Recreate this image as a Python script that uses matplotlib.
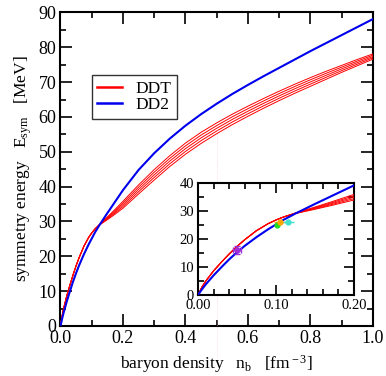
import matplotlib
matplotlib.use("Agg")
import matplotlib.pyplot as plt
from matplotlib.ticker import MultipleLocator, FormatStrFormatter
from matplotlib.lines import Line2D

plt.rcParams["font.family"] = ["Liberation Serif", "DejaVu Serif"]
plt.rcParams["mathtext.fontset"] = "custom"
plt.rcParams["mathtext.rm"] = "Liberation Serif"
plt.rcParams["mathtext.it"] = "Liberation Serif:italic"

# --- данные ---
n_grid = [0, 0.005, 0.01, 0.02, 0.03, 0.04, 0.05, 0.06, 0.075, 0.09, 0.1, 0.11,
          0.125, 0.15, 0.175, 0.2, 0.25, 0.3, 0.35, 0.4, 0.45, 0.5, 0.55, 0.6,
          0.65, 0.7, 0.75, 0.8, 0.85, 0.9, 0.95, 1.0]
e_dd2 = [0, 2.0, 3.8, 7.0, 9.9, 12.7, 15.2, 17.5, 20.6, 23.4, 25.1, 26.8,
         29.0, 32.4, 35.7, 39.0, 44.8, 49.6, 53.8, 57.5, 60.8, 63.8, 66.6, 69.2,
         71.7, 74.1, 76.5, 78.9, 81.2, 83.5, 85.8, 88.1]
# полоса DDT: нижняя и верхняя границы
ddt_lo = [0, 2.8, 5.0, 8.6, 11.7, 14.6, 17.3, 19.7, 22.9, 25.4, 26.7, 27.8,
          29.0, 30.5, 32.1, 33.8, 37.9, 41.9, 45.8, 49.3, 52.4, 55.2, 57.8, 60.2,
          62.5, 64.7, 66.8, 68.8, 70.8, 72.8, 74.7, 76.6]
ddt_hi = [0, 2.8, 5.0, 8.6, 11.7, 14.6, 17.3, 19.7, 22.9, 25.4, 26.7, 27.8,
          29.2, 31.3, 33.5, 35.8, 40.5, 44.9, 48.9, 52.5, 55.6, 58.3, 60.8, 63.1,
          65.3, 67.4, 69.4, 71.3, 73.1, 74.8, 76.5, 78.1]

# точки в инсете
pt_n = [0.0498, 0.101, 0.1056, 0.1155]
pt_e = [16.0, 25.0, 25.8, 25.8]
pt_dn = [0.005, 0.0, 0.008, 0.008]
pt_de = [1.3, 0.0, 0.0, 0.0]
pt_colors = ["#9b30d9", "#22dd22", "#ffa500", "#40e0d0"]

RED = "#ff0000"
BLUE = "#0000ee"
N_BAND = 5


def draw_curves(ax, lw_band, lw_blue):
    # несколько тонких линий внутри полосы DDT
    for k in range(N_BAND):
        f = k / (N_BAND - 1)
        band = [lo + f * (hi - lo) for lo, hi in zip(ddt_lo, ddt_hi)]
        ax.plot(n_grid, band, color=RED, lw=lw_band, zorder=3)
    ax.plot(n_grid, e_dd2, color=BLUE, lw=lw_blue, zorder=4)


def style_ticks(ax, major_len, minor_len, size):
    ax.tick_params(which="both", direction="in", top=True, right=True,
                   width=1.2, labelsize=size, pad=3)
    ax.tick_params(which="major", length=major_len)
    ax.tick_params(which="minor", length=minor_len)
    for s in ax.spines.values():
        s.set_linewidth(1.5)


fig = plt.figure(figsize=(3.86, 3.76), dpi=100)
fig.patch.set_facecolor("white")

ax = fig.add_axes([0.1567, 0.133, 0.8096, 0.834])
draw_curves(ax, 0.7, 1.5)
ax.set_xlim(0, 1.0)
ax.set_ylim(0, 90)
ax.xaxis.set_major_locator(MultipleLocator(0.2))
ax.xaxis.set_minor_locator(MultipleLocator(0.1))
ax.yaxis.set_major_locator(MultipleLocator(10))
ax.yaxis.set_minor_locator(MultipleLocator(5))
ax.xaxis.set_major_formatter(FormatStrFormatter("%.1f"))
style_ticks(ax, 8.5, 4.5, 13)
ax.set_xlabel(r"baryon density   n$_{\rm b}$   [fm$^{\rm -3}$]", fontsize=12.5, labelpad=4)
ax.set_ylabel(r"symmetry energy   E$_{\rm sym}$   [MeV]", fontsize=12.5, labelpad=3)

# легенда
handles = [Line2D([], [], color=RED, lw=1.8), Line2D([], [], color=BLUE, lw=1.8)]
leg = ax.legend(handles, ["DDT", "DD2"], loc="upper left",
                bbox_to_anchor=(0.0998, 0.800), fontsize=12.5, frameon=True,
                fancybox=False, borderpad=0.32, handlelength=1.45,
                handletextpad=0.75, labelspacing=0.0, borderaxespad=0)
leg.get_frame().set_edgecolor("black")
leg.get_frame().set_linewidth(1.0)

# слабая пунктирная линия на n = 0.5
ax.plot([0.5, 0.5], [56.7, -9], color="#ffb6c1", lw=0.5, ls=":",
        clip_on=False, zorder=10, alpha=0.8)

# --- инсет ---
axi = fig.add_axes([0.513, 0.2154, 0.404, 0.299])
draw_curves(axi, 0.7, 1.5)
for x, y, dx, dy, c in zip(pt_n, pt_e, pt_dn, pt_de, pt_colors):
    axi.errorbar([x], [y], xerr=[dx] if dx else None, yerr=[dy] if dy else None,
                 fmt="o", ms=3.5, color=c, ecolor=c, elinewidth=1.0,
                 capsize=2.5 if dy else 0, zorder=5)
axi.set_xlim(0, 0.2)
axi.set_ylim(0, 40)
axi.xaxis.set_major_locator(MultipleLocator(0.1))
axi.xaxis.set_minor_locator(MultipleLocator(0.02))
axi.yaxis.set_major_locator(MultipleLocator(10))
axi.yaxis.set_minor_locator(MultipleLocator(5))
axi.xaxis.set_major_formatter(FormatStrFormatter("%.2f"))
style_ticks(axi, 7, 4.5, 10.5)

fig.savefig("out.png", dpi=100)
